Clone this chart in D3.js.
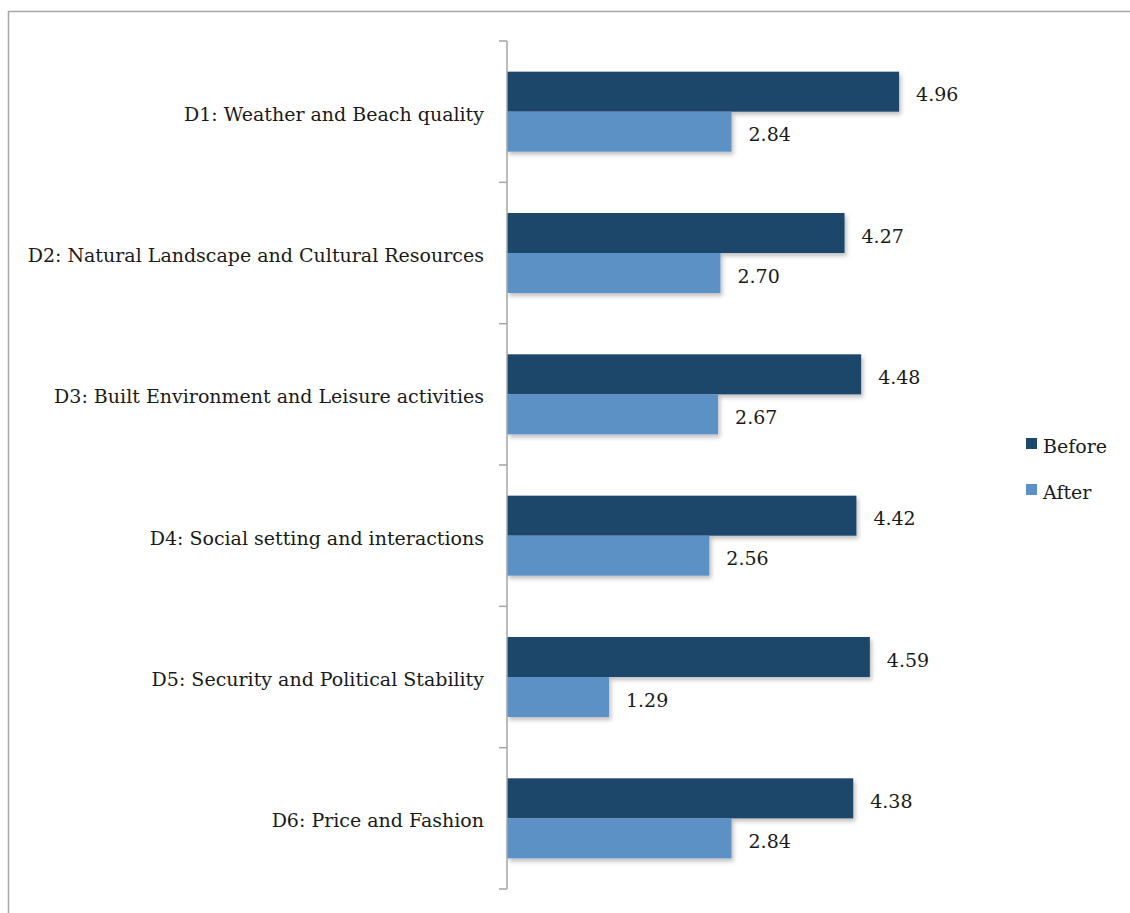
<!DOCTYPE html>
<html><head><meta charset="utf-8">
<script src="https://cdn.jsdelivr.net/npm/d3@7"></script>
<style>html,body{margin:0;padding:0;background:#fff;}svg{display:block;}</style>
</head><body>
<svg id="chart" width="1130" height="913"></svg>
<script>
const categories = [
  "D1: Weather and Beach quality",
  "D2: Natural Landscape and Cultural Resources",
  "D3: Built Environment and Leisure activities",
  "D4: Social setting and interactions",
  "D5: Security and Political Stability",
  "D6: Price and Fashion"
];
const seriesNames = ["Before", "After"];
const beforeValues = [4.96, 4.27, 4.48, 4.42, 4.59, 4.38];
const afterValues = [2.84, 2.70, 2.67, 2.56, 1.29, 2.84];
const colors = ["#1b476b", "#5b91c6"];

const svg = d3.select("#chart");
const font = "'DejaVu Serif', serif";
const fs = 19;

// outer border (top and left visible)
svg.append("line").attr("x1", 8).attr("x2", 1130).attr("y1", 11.5).attr("y2", 11.5).attr("stroke", "#a8a8a8").attr("stroke-width", 1.5);
svg.append("line").attr("x1", 8.5).attr("x2", 8.5).attr("y1", 11).attr("y2", 913).attr("stroke", "#a8a8a8").attr("stroke-width", 1.5);

const defs = svg.append("defs");
const f = defs.append("filter").attr("id", "shadow").attr("x", "-5%").attr("y", "-20%").attr("width", "115%").attr("height", "160%");
f.append("feDropShadow").attr("dx", 2).attr("dy", 3).attr("stdDeviation", 2).attr("flood-color", "#000").attr("flood-opacity", 0.25);

const x = d3.scaleLinear().domain([0, 6]).range([507, 507 + 6 * 79.05]);
const y = d3.scaleBand().domain(categories).range([41, 889]).paddingInner(0).paddingOuter(0);
const bw = y.bandwidth();
const inner = d3.scaleBand().domain(seriesNames).range([(bw - 80) / 2, (bw + 80) / 2]).padding(0);

const data = categories.map((c, i) => ({cat: c, vals: [beforeValues[i], afterValues[i]]}));

const groups = svg.append("g").selectAll("g").data(data).join("g")
  .attr("transform", d => `translate(0,${y(d.cat)})`);

groups.selectAll("rect").data(d => d.vals.map((v, j) => ({v, s: seriesNames[j], j})))
  .join("rect")
  .attr("x", x(0))
  .attr("y", d => inner(d.s))
  .attr("width", d => x(d.v) - x(0))
  .attr("height", inner.bandwidth())
  .attr("fill", d => colors[d.j])
  .attr("filter", "url(#shadow)");

groups.selectAll("text.val").data(d => d.vals.map((v, j) => ({v, s: seriesNames[j], j})))
  .join("text").attr("class", "val")
  .attr("x", d => x(d.v) + 17)
  .attr("y", d => inner(d.s) + inner.bandwidth() / 2 + 3)
  .attr("dy", "0.35em")
  .attr("font-family", font).attr("font-size", fs).attr("fill", "#1a1a1a")
  .text(d => d.v.toFixed(2));

// axis
const axis = d3.axisLeft(y).tickSize(0).tickFormat(d => d).tickPadding(23);
const ag = svg.append("g").attr("transform", `translate(${x(0)},0)`).call(axis);
ag.select(".domain").attr("stroke", "#a6a6a6").attr("stroke-width", 1.5).attr("d", `M0,${y.range()[0]}V${y.range()[1]}`);
ag.selectAll(".tick text").attr("font-family", font).attr("font-size", fs).attr("fill", "#1a1a1a").attr("dy", "0.47em");
// boundary tick marks
const bounds = categories.map(c => y(c)).concat([y.range()[1]]);
ag.selectAll("line.bound").data(bounds).join("line").attr("class", "bound")
  .attr("x1", -8).attr("x2", 0).attr("y1", d => d).attr("y2", d => d)
  .attr("stroke", "#a6a6a6").attr("stroke-width", 1.5);

// legend
const lg = svg.append("g").attr("transform", "translate(1026,438)");
seriesNames.forEach((s, i) => {
  const g = lg.append("g").attr("transform", `translate(0,${i * 46})`);
  g.append("rect").attr("width", 11).attr("height", 11).attr("fill", colors[i]);
  g.append("text").attr("x", 17).attr("y", 8).attr("dy", "0.35em")
    .attr("font-family", font).attr("font-size", fs).attr("fill", "#1a1a1a").text(s);
});
</script>
</body></html>
